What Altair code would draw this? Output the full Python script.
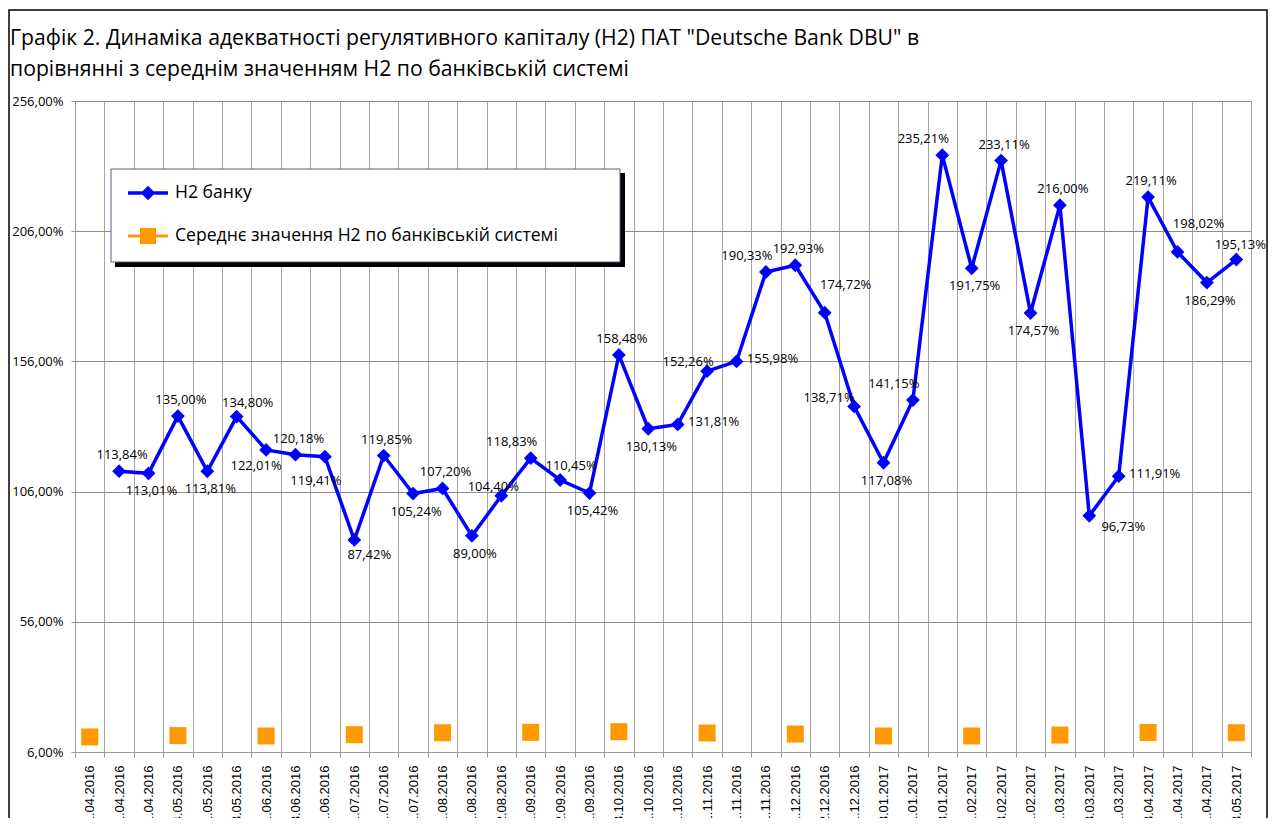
import altair as alt
import pandas as pd

dates = ["01.04.2016", "11.04.2016", "21.04.2016", "04.05.2016", "11.05.2016", "23.05.2016",
         "01.06.2016", "13.06.2016", "21.06.2016", "01.07.2016", "11.07.2016", "21.07.2016",
         "01.08.2016", "11.08.2016", "22.08.2016", "01.09.2016", "12.09.2016", "21.09.2016",
         "03.10.2016", "11.10.2016", "21.10.2016", "01.11.2016", "11.11.2016", "21.11.2016",
         "01.12.2016", "12.12.2016", "21.12.2016", "03.01.2017", "11.01.2017", "23.01.2017",
         "01.02.2017", "13.02.2017", "21.02.2017", "01.03.2017", "13.03.2017", "21.03.2017",
         "03.04.2017", "11.04.2017", "21.04.2017", "03.05.2017"]

bank = [None, 113.84, 113.01, 135.00, 113.81, 134.80, 122.01, 120.18, 119.41, 87.42,
        119.85, 105.24, 107.20, 89.00, 104.40, 118.83, 110.45, 105.42, 158.48, 130.13,
        131.81, 152.26, 155.98, 190.33, 192.93, 174.72, 138.71, 117.08, 141.15, 235.21,
        191.75, 233.11, 174.57, 216.00, 96.73, 111.91, 219.11, 198.02, 186.29, 195.13]

avg_dates = ["01.04.2016", "04.05.2016", "01.06.2016", "01.07.2016", "01.08.2016", "01.09.2016",
             "03.10.2016", "01.11.2016", "01.12.2016", "03.01.2017", "01.02.2017", "01.03.2017",
             "03.04.2017", "03.05.2017"]
avg = [11.8, 12.3, 12.15, 12.65, 13.4, 13.55, 13.8, 13.3, 12.9, 12.15, 12.15, 12.5, 13.5, 13.4]

# data-label placement (like Excel label position), one code per point
place = [None, "t", "b", "t", "b", "tr", "bl", "t", "bl2", "br", "t", "b", "t", "b", "tls", "tl",
         "tr", "b", "t", "b", "r", "tl2", "r", "tl", "t", "tr2", "l", "b", "tl", "tl", "b", "t",
         "b", "t", "rb", "r", "t", "tr2", "b", "tr3"]

series = ["Н2 банку", "Середнє значення Н2 по банківській системі"]
title_lines = ["Графік 2. Динаміка адекватності регулятивного капіталу (Н2) ПАТ \"Deutsche Bank DBU\" в",
               "порівнянні з середнім значенням Н2 по банківській системі"]

offsets = {"t": (3, -16), "b": (3, 18), "bl": (-10, 16), "bl2": (-9, 24), "br": (15, 15),
           "rb": (34, 11), "r": (36, -2), "l": (-25, -8), "tl": (-19, -16), "tls": (-8, -9),
           "tl2": (-19, -9), "tr": (11, -14), "tr2": (21, -28), "tr3": (4, -15)}

BLUE = "#0000FF"
ORANGE = "#FF9900"
FONT = "Open Sans"

df_bank = pd.DataFrame({"date": dates, "value": bank, "place": place}).dropna()
df_bank["label"] = df_bank["value"].map(lambda v: f"{v:.2f}".replace(".", ",") + "%")
df_avg = pd.DataFrame({"date": avg_dates, "value": avg})
one = pd.DataFrame({"a": [0]})

x_enc = alt.X("date:N",
              scale=alt.Scale(type="band", domain=dates, paddingInner=0, paddingOuter=0),
              axis=alt.Axis(title=None, labelAngle=270, labelFont="Liberation Sans",
                            labelFontSize=13, labelColor="black", tickBand="extent",
                            tickSize=5, tickColor="#999999", domainColor="#999999",
                            grid=True, gridColor="#a6a6a6", labelPadding=8))
y_enc = alt.Y("value:Q",
              scale=alt.Scale(domain=[6, 256], nice=False, zero=False),
              axis=alt.Axis(title=None, values=[6, 56, 106, 156, 206, 256],
                            labelExpr="replace(format(datum.value, '.2f'), '.', ',') + '%'",
                            labelFont=FONT, labelFontSize=13, labelColor="black",
                            tickSize=4, labelPadding=8, tickColor="#999999",
                            domainColor="#999999", grid=True, gridColor="#8c8c8c"))

frame = alt.Chart(one).mark_rect(fill=None, stroke="black", strokeWidth=1.5).encode(
    x=alt.value(-66), x2=alt.value(1192), y=alt.value(-91), y2=alt.value(800))

title = alt.Chart(one).mark_text(font=FONT, fontSize=21.2, color="black", align="left",
                                 baseline="alphabetic", lineHeight=31).encode(
    x=alt.value(-65), y=alt.value(-56), text=alt.value(title_lines))

line = alt.Chart(df_bank).mark_line(color=BLUE, strokeWidth=3.5).encode(x=x_enc, y=y_enc)
pts = alt.Chart(df_bank).mark_point(shape="diamond", filled=True, size=190, color=BLUE,
                                    opacity=1).encode(x=x_enc, y=y_enc)
sq = alt.Chart(df_avg).mark_point(shape="square", filled=True, size=289, color=ORANGE,
                                  opacity=1).encode(x=x_enc, y=y_enc)

label_layers = []
for code, (dx, dy) in offsets.items():
    label_layers.append(
        alt.Chart(df_bank).transform_filter(alt.datum.place == code).mark_text(
            font=FONT, fontSize=13, color="black", align="center", baseline="middle",
            dx=dx, dy=dy).encode(x=x_enc, y=y_enc, text="label:N"))

shadow = alt.Chart(one).mark_rect(fill="black").encode(
    x=alt.value(40), x2=alt.value(550), y=alt.value(72), y2=alt.value(166))
box = alt.Chart(one).mark_rect(fill="white", stroke="#5a5a8a", strokeWidth=1).encode(
    x=alt.value(36), x2=alt.value(545), y=alt.value(68), y2=alt.value(161))

blue_sym = "M-2,-0.17H2V0.17H-2Z M0,-0.72L0.72,0L0,0.72L-0.72,0Z"
orange_sym = "M-2,-0.15H2V0.15H-2Z M-0.8,-0.8H0.8V0.8H-0.8Z"
leg = alt.Legend(title=None, orient="none", legendX=63, legendY=82, labelFont=FONT,
                 labelFontSize=17.6, labelColor="black", symbolSize=400, symbolStrokeWidth=0,
                 labelOffset=17, rowPadding=24, padding=0, labelLimit=700, symbolOpacity=1)
legend_layer = alt.Chart(pd.DataFrame({"series": series})).transform_filter("false").mark_point(
    filled=True, opacity=1).encode(
    color=alt.Color("series:N", scale=alt.Scale(domain=series, range=[BLUE, ORANGE]), legend=leg),
    shape=alt.Shape("series:N", scale=alt.Scale(domain=series, range=[blue_sym, orange_sym]),
                    legend=leg))

chart = alt.layer(frame, title, line, pts, sq, *label_layers, shadow, box, legend_layer).properties(
    width=1176, height=651,
    padding={"left": 67, "top": 93, "right": 17, "bottom": 66},
    autosize=alt.AutoSizeParams(type="none"),
).configure_view(stroke=None).configure(background="white")

chart.save("out.html", embed_options={"renderer": "svg", "actions": False})
